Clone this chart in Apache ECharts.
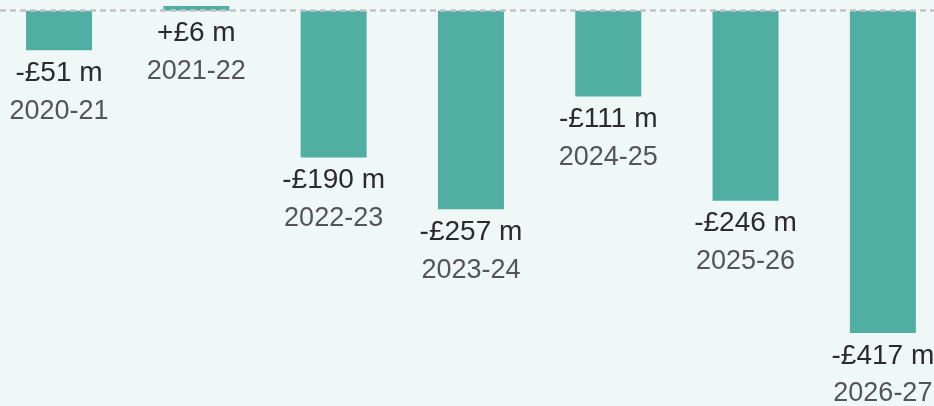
<!DOCTYPE html>
<html>
<head>
<meta charset="utf-8">
<script src="https://cdn.jsdelivr.net/npm/echarts@6/dist/echarts.min.js"></script>
<style>
  html, body { margin: 0; padding: 0; background: #eff8f7; }
  #chart1 { width: 934px; height: 406px; }
</style>
</head>
<body>
<div id="chart1"></div>
<script>
var years = ['2020-21', '2021-22', '2022-23', '2023-24', '2024-25', '2025-26', '2026-27'];
var values = [-51, 6, -190, -257, -111, -246, -417];
var barColor = '#50aea3';

function fmtValue(v) {
    return (v > 0 ? '+' : '-') + '£' + Math.abs(v) + ' m';
}

// x 用数值轴，让两端的柱子可以贴边/出界一点
var barData = values.map(function(v, i) { return [i, v]; });

var option = {
    backgroundColor: '#eff8f7',
    grid: { left: 0, right: 0, top: 3, bottom: 9 },
    xAxis: {
        type: 'value',
        min: -0.43,
        max: 6.3725,
        show: false,
        splitLine: { show: false }
    },
    yAxis: {
        type: 'value',
        min: -500,
        max: 10,
        show: false,
        splitLine: { show: false }
    },
    series: [{
        type: 'bar',
        barWidth: 66,
        itemStyle: { color: barColor },
        label: {
            show: true,
            position: 'bottom',
            distance: 4,
            formatter: function(p) {
                return '{v|' + fmtValue(p.value[1]) + '}\n{y|' + years[p.dataIndex] + '}';
            },
            rich: {
                v: { fontFamily: 'Liberation Sans', fontSize: 28, color: '#2b2b2b', lineHeight: 38 },
                y: { fontFamily: 'Liberation Sans', fontSize: 27, color: '#555555', lineHeight: 38 }
            }
        },
        markLine: {
            silent: true,
            symbol: 'none',
            z: 10,
            label: { show: false },
            lineStyle: { color: '#c2c2c2', type: [6, 4], width: 2.5 },
            data: [{ yAxis: 0 }]
        },
        data: barData
    }]
};

var chart1 = echarts.init(document.getElementById('chart1'));
chart1.setOption(option);
</script>
</body>
</html>
